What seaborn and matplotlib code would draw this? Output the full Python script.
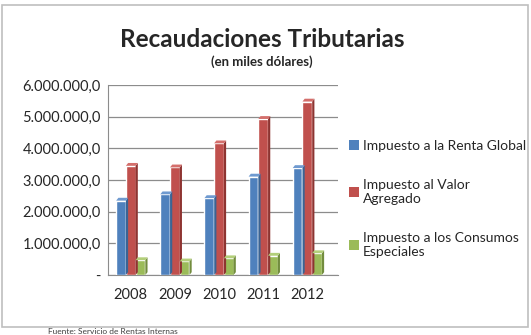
import numpy as np
import pandas as pd
import matplotlib
matplotlib.use("Agg")
import matplotlib.pyplot as plt
from matplotlib.patches import Polygon, Rectangle, Patch
import seaborn as sns

# Datos (en miles de dólares)
years = ['2008', '2009', '2010', '2011', '2012']
renta_global = [2350000, 2550000, 2430000, 3110000, 3380000]
valor_agregado = [3450000, 3400000, 4160000, 4930000, 5480000]
consumos_especiales = [470000, 430000, 530000, 610000, 690000]

series = ['Impuesto a la Renta Global', 'Impuesto al Valor Agregado',
          'Impuesto a los Consumos Especiales']
legend_labels = ['Impuesto a la Renta Global', 'Impuesto al Valor\nAgregado',
                 'Impuesto a los Consumos\nEspeciales']
colors = ['#4F81BD', '#C0504D', '#9BBB59']
side_colors = ['#3A6494', '#8E3431', '#728C3E']
top_colors = ['#6F9AD0', '#D46F6C', '#B3CF7A']

yticks = [0, 1000000, 2000000, 3000000, 4000000, 5000000, 6000000]
ytick_labels = ['-', '1.000.000,0', '2.000.000,0', '3.000.000,0',
                '4.000.000,0', '5.000.000,0', '6.000.000,0']

df = pd.DataFrame({
    'year': years * 3,
    'serie': [series[0]] * 5 + [series[1]] * 5 + [series[2]] * 5,
    'valor': renta_global + valor_agregado + consumos_especiales,
})

sns.set_style('white')
plt.rcParams['font.family'] = ['Lato', 'DejaVu Sans']

fig = plt.figure(figsize=(5.31, 3.35), dpi=100)
ax = fig.add_axes([0.203, 0.179, 0.434, 0.567])

sns.barplot(data=df, x='year', y='valor', hue='serie', palette=colors,
            width=0.66, ax=ax, legend=False, saturation=1, zorder=3)

# efecto 3D simple: cara lateral y superior de cada barra
dx, dy = 0.05, 90000
for i, bar in enumerate(ax.patches[:15]):
    k = i // 5
    x0, w, h = bar.get_x(), bar.get_width(), bar.get_height()
    side = Polygon([(x0 + w, 0), (x0 + w + dx, dy), (x0 + w + dx, h + dy), (x0 + w, h)],
                   closed=True, facecolor=side_colors[k], edgecolor='none', zorder=3)
    top = Polygon([(x0, h), (x0 + dx, h + dy), (x0 + w + dx, h + dy), (x0 + w, h)],
                  closed=True, facecolor=top_colors[k], edgecolor='none', zorder=3)
    ax.add_patch(side)
    ax.add_patch(top)

ax.set_xlim(-0.52, 4.7)
ax.set_ylim(0, 6000000)
ax.set_yticks(yticks)
ax.set_yticklabels(ytick_labels, fontsize=10.5)
ax.tick_params(axis='x', labelsize=10.5, length=0, pad=9)
ax.tick_params(axis='y', length=0, pad=5)
ax.set_xlabel('')
ax.set_ylabel('')
ax.grid(axis='y', color='#8c8c8c', linewidth=0.9, zorder=0)
for s in ['top', 'right']:
    ax.spines[s].set_visible(False)
ax.spines['left'].set_color('#8c8c8c')
ax.spines['bottom'].set_color('#8c8c8c')

handles = [Patch(facecolor=c, edgecolor='none') for c in colors]
fig.legend(handles, legend_labels, loc='upper left', bbox_to_anchor=(0.647, 0.6),
           frameon=False, fontsize=10, handlelength=0.7, handleheight=0.7,
           handletextpad=0.3, labelspacing=1.95, borderaxespad=0)

fig.text(0.493, 0.882, 'Recaudaciones Tributarias', ha='center', va='center',
         fontsize=17.5, fontweight='bold')
fig.text(0.493, 0.816, '(en miles dólares)', ha='center', va='center',
         fontsize=9.5, fontweight='bold')

fig.patches.append(Rectangle((0.003, 0.024), 0.991, 0.96, transform=fig.transFigure,
                             fill=False, edgecolor='#bfbfbf', linewidth=1.2))
fig.text(0.09, 0.001, 'Fuente: Servicio de Rentas Internas', fontsize=6,
         color='#404040', va='bottom')

fig.savefig('out.png', dpi=100)
